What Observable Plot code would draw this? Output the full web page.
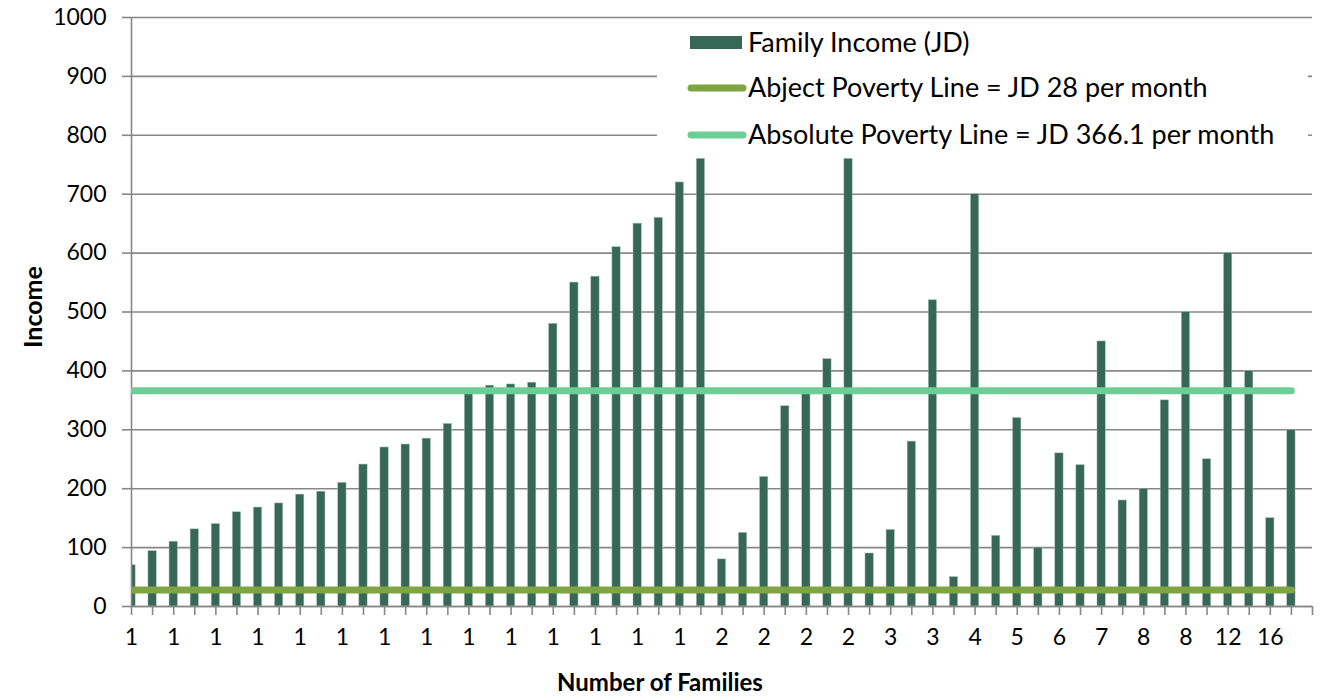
<!DOCTYPE html>
<html><head><meta charset="utf-8">
<script src="https://cdn.jsdelivr.net/npm/d3@7"></script>
<script src="https://cdn.jsdelivr.net/npm/@observablehq/plot@0.6"></script>
<style>body{margin:0;background:#fff;} #chart{width:1325px;height:700px;}</style>
</head><body><div id="chart"></div>
<script>
// Family income per family (JD), one bar per category position
const income = [70, 94, 110, 131, 140, 160, 168, 175, 190, 195, 210, 241, 270, 275, 285, 310,
  364, 375, 377, 380, 480, 550, 560, 610, 650, 660, 720, 760,
  80, 125, 220, 340, 362, 420, 760,
  90, 130, 280, 520, 50, 700, 120, 320, 100, 260, 240, 450, 180, 200, 350, 500, 250, 600, 400, 150, 300];
// category tick labels (shown on every second position)
const xTickLabels = ["1","1","1","1","1","1","1","1","1","1","1","1","1","1",
  "2","2","2","2","3","3","4","5","6","7","8","8","12","16"];
const abjectLine = 28;
const absoluteLine = 366.1;
const seriesNames = ["Family Income (JD)", "Abject Poverty Line = JD 28 per month", "Absolute Poverty Line = JD 366.1 per month"];
const yTicks = d3.range(0, 1001, 100);
const yTitle = "Income";
const xTitle = "Number of Families";

const barColor = "#376857", abjectColor = "#7EA443", absoluteColor = "#6DCD97", gridColor = "#878787";
const font = "Lato, 'Open Sans', sans-serif";

const bars = income.map((v, i) => ({i, v}));
const idx = income.map((_, i) => i);
const half = 0.197;

const plot = Plot.plot({
  width: 1325, height: 700,
  marginLeft: 131, marginRight: 13, marginTop: 17, marginBottom: 94,
  style: {fontFamily: font, fontSize: "22px", color: "#000", background: "#fff"},
  x: {type: "linear", domain: [0, income.length], axis: null},
  y: {domain: [0, 1000], axis: null},
  marks: [
    Plot.gridY(yTicks, {stroke: gridColor, strokeOpacity: 1, strokeWidth: 1.6}),
    Plot.axisY(yTicks, {tickSize: 9, tickPadding: 16, stroke: gridColor, strokeWidth: 1.6, fill: "#000", label: null, fontSize: 23, tickFormat: d => String(d)}),
    Plot.axisX(d3.range(0, income.length + 1), {tickSize: 9, stroke: gridColor, strokeWidth: 1.6, tickFormat: () => "", label: null}),
    Plot.axisX(xTickLabels.map((_, j) => 2 * j), {tickSize: 0, tickPadding: 22, tickFormat: d => xTickLabels[d / 2], fill: "#000", label: null, fontSize: 23}),
    Plot.rectY(bars, {x1: d => d.i - half, x2: d => d.i + half, y: "v", fill: barColor, stroke: "#a9c2b8", strokeWidth: 0.5, clip: true}),
    Plot.ruleX([0], {stroke: gridColor, strokeWidth: 1.6}),
    Plot.ruleY([0], {stroke: gridColor, strokeWidth: 1.6}),
    Plot.lineY(idx, {x: d => d, y: () => abjectLine, stroke: abjectColor, strokeWidth: 7, strokeLinecap: "round", clip: true}),
    Plot.lineY(idx, {x: d => d, y: () => absoluteLine, stroke: absoluteColor, strokeWidth: 7, strokeLinecap: "round", clip: true})
  ]
});
document.getElementById("chart").appendChild(plot);

const svg = d3.select(plot);
// axis titles
svg.append("text").attr("transform", "translate(33,307) rotate(-90)")
  .attr("text-anchor", "middle").attr("dy", "0.35em")
  .style("font-family", font).style("font-size", "25px").style("font-weight", "bold").text(yTitle);
svg.append("text").attr("x", 660).attr("y", 683)
  .attr("text-anchor", "middle").attr("dy", "0.35em")
  .style("font-family", font).style("font-size", "24px").style("font-weight", "bold").text(xTitle);

// legend (white box over plot area, as in the reference)
const lg = svg.append("g");
lg.append("rect").attr("x", 657).attr("y", 20).attr("width", 651).attr("height", 137).attr("fill", "#fff");
const rowsY = [43, 88, 135];
lg.append("rect").attr("x", 690).attr("y", 36).attr("width", 52).attr("height", 13).attr("fill", barColor);
[[abjectColor, rowsY[1]], [absoluteColor, rowsY[2]]].forEach(([c, y]) => {
  lg.append("line").attr("x1", 691).attr("x2", 743).attr("y1", y).attr("y2", y)
    .attr("stroke", c).attr("stroke-width", 7).attr("stroke-linecap", "round");
});
seriesNames.forEach((n, k) => {
  lg.append("text").attr("x", 748).attr("y", rowsY[k]).attr("dy", "0.35em")
    .attr("text-anchor", "start")
    .style("font-family", font).style("font-size", "27px").text(n);
});
</script>
</body></html>
